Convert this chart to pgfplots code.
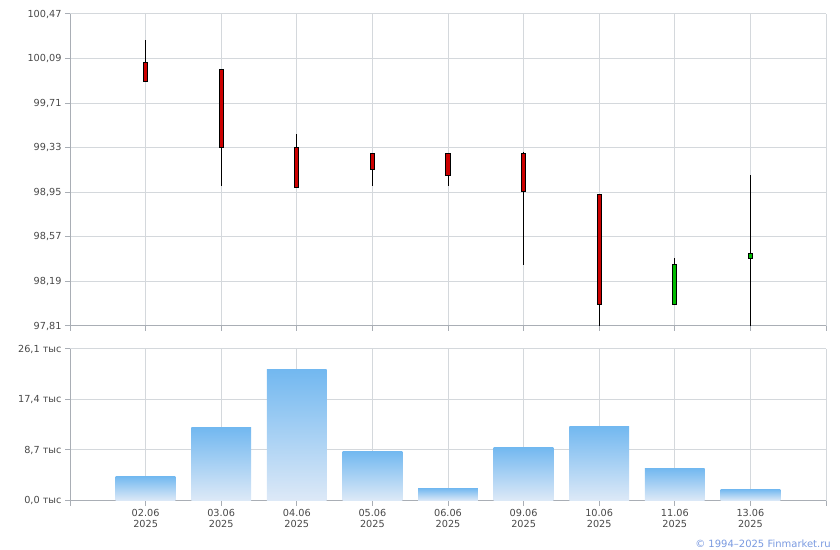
\documentclass[border=0pt]{standalone}
\usepackage{fontspec}
\setmainfont{DejaVu Sans}
\usepackage{pgfplots}
\pgfplotsset{compat=1.18}
\usepgfplotslibrary{statistics}

\definecolor{gridc}{HTML}{D4D8DC}
\definecolor{axisc}{HTML}{A9AEB5}
\definecolor{labc}{HTML}{484848}
\definecolor{candred}{HTML}{CC0000}
\definecolor{candgreen}{HTML}{00BB00}
\definecolor{bartop}{HTML}{72B8F0}
\definecolor{barbot}{HTML}{DDE9F7}
\definecolor{copyc}{HTML}{7A9AE0}

\pgfplotsset{
  finm/.style={
    scale only axis,
    anchor=south west,
    width=756bp,
    xmin=-1, xmax=9,
    xtick={-1,0,...,9},
    axis lines=left,
    axis line style={-, draw=axisc, line width=1bp},
    tick style={draw=axisc, line width=1bp},
    tick align=outside,
    major tick length=5bp,
    grid=major,
    grid style={draw=gridc, line width=1bp},
    ticklabel style={font=\fontsize{9.7bp}{11.5bp}\selectfont, text=labc},
    clip=true,
  },
  candle/.style={draw=black, solid, line width=0.9bp,
    boxplot/box extend=0.055, boxplot/whisker extend=0, boxplot/draw direction=y},
  down/.style={candle, fill=candred},
  up/.style={candle, fill=candgreen},
  vol/.style={ybar, bar width=0.79, bar shift=0pt, draw=none,
    top color=bartop, bottom color=barbot},
}

\begin{document}
\begin{tikzpicture}
\path[use as bounding box] (0,0) rectangle (840bp,550bp);

% price candles
\begin{axis}[finm,
  at={(70bp,224bp)},
  height=312bp,
  ymin=97.81, ymax=100.47,
  ytick={97.81,98.19,98.57,98.95,99.33,99.71,100.09,100.47},
  yticklabels={{97,81},{98,19},{98,57},{98,95},{99,33},{99,71},{100,09},{100,47}},
  xticklabels={},
]
\addplot[down, boxplot prepared={draw position=0, lower whisker=99.893, lower quartile=99.893, median=99.893, upper quartile=100.055, upper whisker=100.248}] coordinates {};
\addplot[down, boxplot prepared={draw position=1, lower whisker=99.006, lower quartile=99.333, median=99.333, upper quartile=100.001, upper whisker=100.001}] coordinates {};
\addplot[down, boxplot prepared={draw position=2, lower whisker=98.989, lower quartile=98.989, median=98.989, upper quartile=99.335, upper whisker=99.446}] coordinates {};
\addplot[down, boxplot prepared={draw position=3, lower whisker=99.006, lower quartile=99.143, median=99.143, upper quartile=99.282, upper whisker=99.282}] coordinates {};
\addplot[down, boxplot prepared={draw position=4, lower whisker=99.006, lower quartile=99.092, median=99.092, upper quartile=99.282, upper whisker=99.282}] coordinates {};
\addplot[down, boxplot prepared={draw position=5, lower whisker=98.333, lower quartile=98.955, median=98.955, upper quartile=99.282, upper whisker=99.296}] coordinates {};
\addplot[down, boxplot prepared={draw position=6, lower whisker=97.78, lower quartile=97.995, median=97.995, upper quartile=98.935, upper whisker=98.935}] coordinates {};
\addplot[up, boxplot prepared={draw position=7, lower whisker=97.995, lower quartile=97.995, median=97.995, upper quartile=98.336, upper whisker=98.387}] coordinates {};
\addplot[up, boxplot prepared={draw position=8, lower whisker=97.78, lower quartile=98.387, median=98.387, upper quartile=98.430, upper whisker=99.097}] coordinates {};
\end{axis}

% volume, one plot per bar so each bar gets its own gradient
\begin{axis}[finm,
  at={(70bp,49.5bp)},
  height=151.5bp,
  ymin=0, ymax=26.1,
  ytick={0,8.7,17.4,26.1},
  yticklabels={{0,0 тыс},{8,7 тыс},{17,4 тыс},{26,1 тыс}},
  xticklabels={,{02.06\\2025},{03.06\\2025},{04.06\\2025},{05.06\\2025},{06.06\\2025},{09.06\\2025},{10.06\\2025},{11.06\\2025},{13.06\\2025},},
  xticklabel style={align=center},
]
\addplot[vol] coordinates {(0,4.18)};
\addplot[vol] coordinates {(1,12.6)};
\addplot[vol] coordinates {(2,22.6)};
\addplot[vol] coordinates {(3,8.49)};
\addplot[vol] coordinates {(4,2.12)};
\addplot[vol] coordinates {(5,9.17)};
\addplot[vol] coordinates {(6,12.8)};
\addplot[vol] coordinates {(7,5.56)};
\addplot[vol] coordinates {(8,1.95)};
\end{axis}

\node[anchor=base east, text=copyc, font=\fontsize{10bp}{12bp}\selectfont, inner sep=0pt]
  at (831bp,3bp) {© 1994–2025 Finmarket.ru};
\end{tikzpicture}
\end{document}
